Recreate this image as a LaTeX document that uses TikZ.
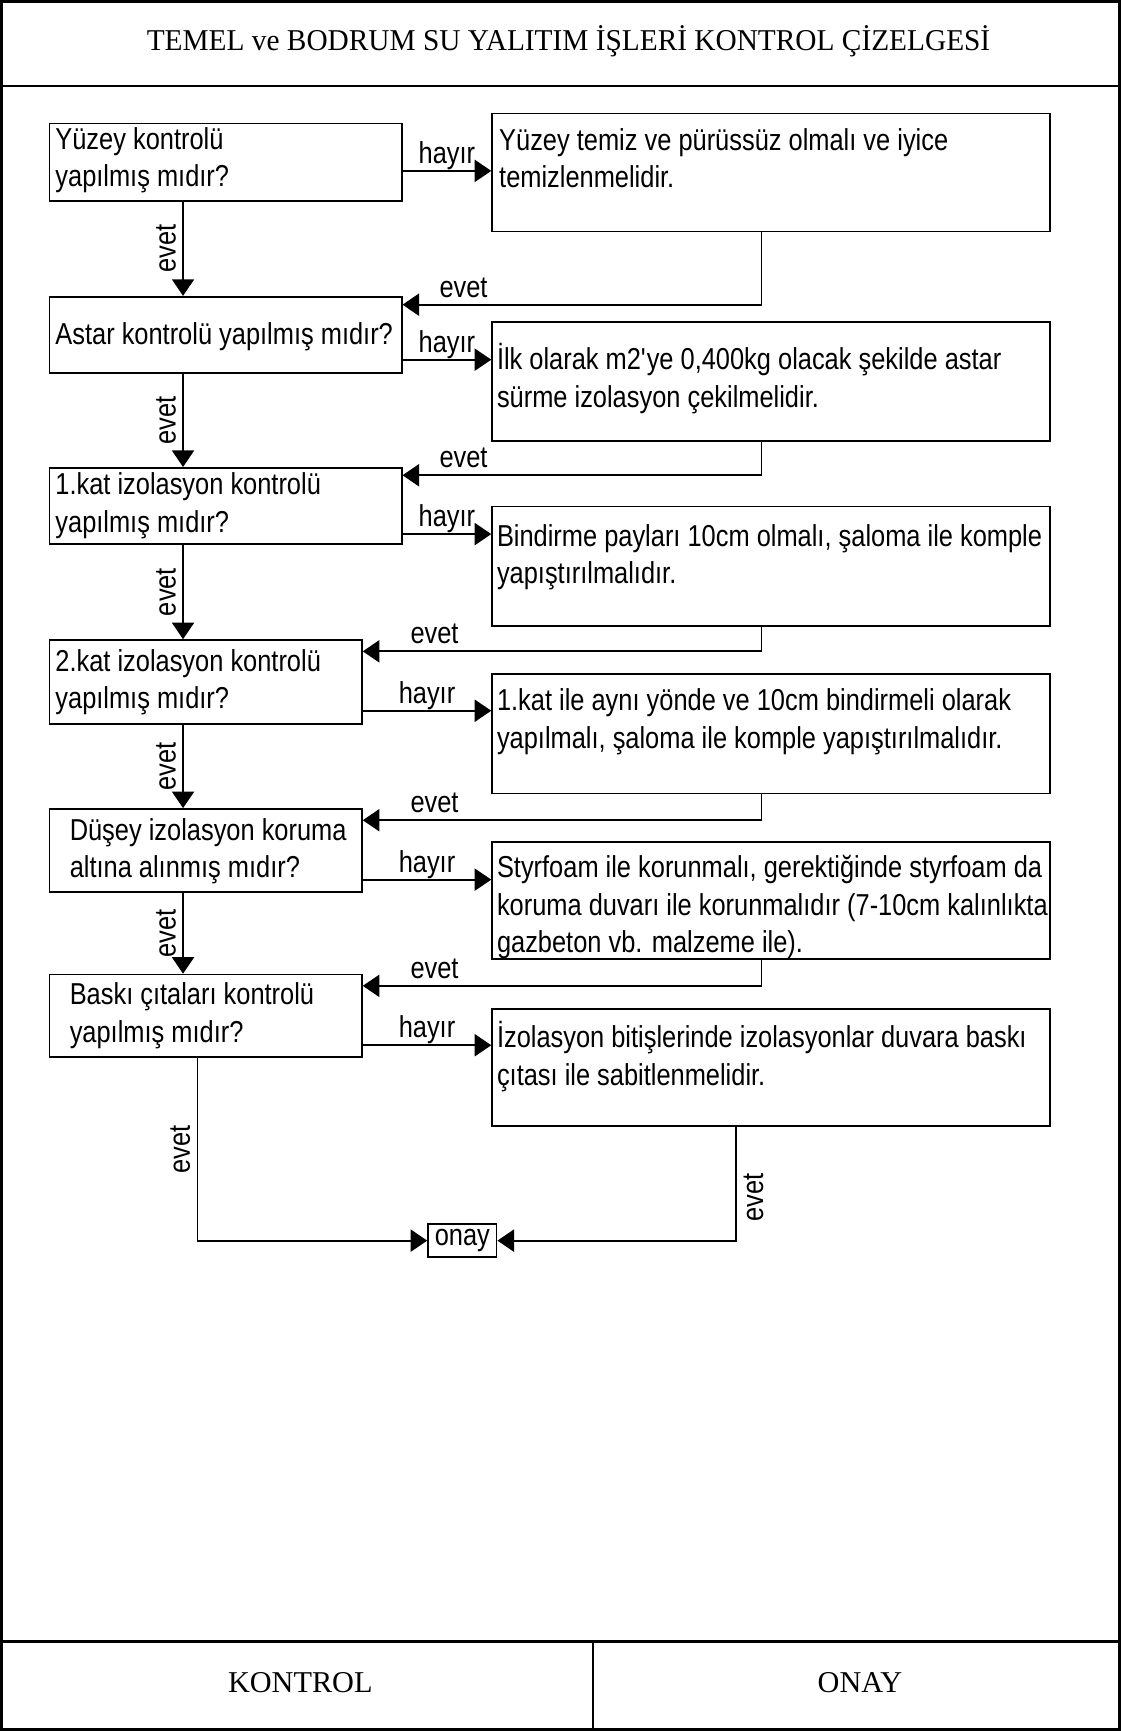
\documentclass[tikz,border=0pt]{standalone}
\usepackage{fontspec}
\setmainfont{Liberation Serif}
\newfontfamily\flowfont[FakeStretch=0.84]{Liberation Sans}
\usetikzlibrary{arrows.meta}
% left-aligned multi-line text whose reference point is the first baseline
\newcommand\boxlines[1]{\parbox[t]{700pt}{\flowfont\fontsize{27.4}{34}\selectfont\raggedright #1}}

\begin{document}
\begin{tikzpicture}[x=1pt,y=-1pt,
  frameline/.style={line width=2.4pt},
  thinframe/.style={line width=1.4pt},
  qbox/.style={draw, line width=1.6pt, anchor=north west, inner sep=0pt},
  body/.style={anchor=base west, inner sep=0pt},
  conn/.style={line width=1.6pt},
  arr/.style={conn, -{Triangle[length=15pt,width=20pt]}},
  lbl/.style={font=\flowfont\fontsize{27.4}{30}\selectfont, inner sep=6pt, text depth=0pt},
  heading/.style={font=\fontsize{27.4}{30}\selectfont, anchor=base, inner sep=0pt}
]
\useasboundingbox (0,0) rectangle (1015,1568);

% form frame
\draw[frameline] (1.2,1.2) rectangle (1013.8,1566.8);
\draw[frameline] (0,78) -- (1015,78);
\draw[frameline] (0,1487) -- (1015,1487);
\draw[thinframe] (537,1487) -- (537,1568);
\node[heading, font=\addfontfeature{FakeStretch=0.97}\fontsize{27.4}{30}\selectfont] (title) at (515,46) {TEMEL ve BODRUM SU YALITIM İŞLERİ KONTROL ÇİZELGESİ};
\node[heading] (kontrol) at (272,1533) {KONTROL};
\node[heading] (onaycell) at (779,1533) {ONAY};

% question boxes
\node[qbox, minimum width=319pt, minimum height=70pt] (Q1) at (44,111) {};
\node[qbox, minimum width=319pt, minimum height=69pt] (Q2) at (44,268) {};
\node[qbox, minimum width=319pt, minimum height=69pt] (Q3) at (44,423) {};
\node[qbox, minimum width=283pt, minimum height=76pt] (Q4) at (44,579) {};
\node[qbox, minimum width=283pt, minimum height=75pt] (Q5) at (44,732) {};
\node[qbox, minimum width=283pt, minimum height=75pt] (Q6) at (44,882) {};

% action boxes
\node[qbox, minimum width=505pt, minimum height=107pt] (A1) at (445,102) {};
\node[qbox, minimum width=505pt, minimum height=108pt] (A2) at (445,291) {};
\node[qbox, minimum width=505pt, minimum height=108pt] (A3) at (445,458) {};
\node[qbox, minimum width=505pt, minimum height=108pt] (A4) at (445,610) {};
\node[qbox, minimum width=505pt, minimum height=106pt] (A5) at (445,762) {};
\node[qbox, minimum width=505pt, minimum height=106pt] (A6) at (445,913) {};

% final box
\node[qbox, minimum width=62pt, minimum height=30pt, font=\flowfont\fontsize{27.4}{30}\selectfont] (onay) at (387,1108) {onay};

% question texts
\node[body] (Q1t) at (50,135) {\boxlines{Yüzey kontrolü\\yapılmış mıdır?}};
\node[body] (Q2t) at (50,312) {\boxlines{Astar kontrolü yapılmış mıdır?}};
\node[body] (Q3t) at (50,448) {\boxlines{1.kat izolasyon kontrolü\\yapılmış mıdır?}};
\node[body] (Q4t) at (50,608) {\boxlines{2.kat izolasyon kontrolü\\yapılmış mıdır?}};
\node[body] (Q5t) at (63,761) {\boxlines{Düşey izolasyon koruma\\altına alınmış mıdır?}};
\node[body] (Q6t) at (63,910) {\boxlines{Baskı çıtaları kontrolü\\yapılmış mıdır?}};

% action texts
\node[body] (A1t) at (452,136) {\boxlines{Yüzey temiz ve pürüssüz olmalı ve iyice\\temizlenmelidir.}};
\node[body] (A2t) at (450,335) {\boxlines{İlk olarak m2\textquotesingle ye 0,400kg olacak şekilde astar\\sürme izolasyon çekilmelidir.}};
\node[body] (A3t) at (450,495) {\boxlines{Bindirme payları 10cm olmalı, şaloma ile komple\\yapıştırılmalıdır.}};
\node[body] (A4t) at (450,644) {\boxlines{1.kat ile aynı yönde ve 10cm bindirmeli olarak\\yapılmalı, şaloma ile komple yapıştırılmalıdır.}};
\node[body] (A5t) at (450,795) {\boxlines{Styrfoam ile korunmalı, gerektiğinde styrfoam da\\koruma duvarı ile korunmalıdır (7-10cm kalınlıkta\\gazbeton vb. malzeme ile).}};
\node[body] (A6t) at (450,949) {\boxlines{İzolasyon bitişlerinde izolasyonlar duvara baskı\\çıtası ile sabitlenmelidir.}};

% "evet" downward flow
\draw[arr] ([xshift=-38.5pt]Q1.south) -- ([xshift=-38.5pt]Q1.south |- Q2.north) node[lbl, midway, anchor=south, rotate=90] {evet};
\draw[arr] ([xshift=-38.5pt]Q2.south) -- ([xshift=-38.5pt]Q2.south |- Q3.north) node[lbl, midway, anchor=south, rotate=90] {evet};
\draw[arr] ([xshift=-38.5pt]Q3.south) -- ([xshift=-38.5pt]Q3.south |- Q4.north) node[lbl, midway, anchor=south, rotate=90] {evet};
\draw[arr] ([xshift=-20.5pt]Q4.south) -- ([xshift=-20.5pt]Q4.south |- Q5.north) node[lbl, midway, anchor=south, rotate=90] {evet};
\draw[arr] ([xshift=-20.5pt]Q5.south) -- ([xshift=-20.5pt]Q5.south |- Q6.north) node[lbl, midway, anchor=south, rotate=90] {evet};

% "hayır" branches
\draw[arr] ([yshift=-8pt]Q1.east) -- ([yshift=-8pt]Q1.east -| A1.west) node[lbl, midway, anchor=south] {hayır};
\draw[arr] ([yshift=-22.5pt]Q2.east) -- ([yshift=-22.5pt]Q2.east -| A2.west) node[lbl, midway, anchor=south] {hayır};
\draw[arr] ([yshift=-25.5pt]Q3.east) -- ([yshift=-25.5pt]Q3.east -| A3.west) node[lbl, midway, anchor=south] {hayır};
\draw[arr] ([yshift=-26pt]Q4.east) -- ([yshift=-26pt]Q4.east -| A4.west) node[lbl, midway, anchor=south] {hayır};
\draw[arr] ([yshift=-26.5pt]Q5.east) -- ([yshift=-26.5pt]Q5.east -| A5.west) node[lbl, midway, anchor=south] {hayır};
\draw[arr] ([yshift=-26.5pt]Q6.east) -- ([yshift=-26.5pt]Q6.east -| A6.west) node[lbl, midway, anchor=south] {hayır};

% returns after correction
\draw[arr] ([xshift=-8.5pt]A1.south) |- ([yshift=-8pt]Q2.north east) node[lbl, pos=0.915, anchor=south] {evet};
\draw[arr] ([xshift=-8.5pt]A2.south) |- ([yshift=-7.5pt]Q3.north east) node[lbl, pos=0.915, anchor=south] {evet};
\draw[arr] ([xshift=-8.5pt]A3.south) |- ([yshift=-11pt]Q4.north east) node[lbl, pos=0.91, anchor=south] {evet};
\draw[arr] ([xshift=-8.5pt]A4.south) |- ([yshift=-11pt]Q5.north east) node[lbl, pos=0.91, anchor=south] {evet};
\draw[arr] ([xshift=-8.5pt]A5.south) |- ([yshift=-11pt]Q6.north east) node[lbl, pos=0.91, anchor=south] {evet};

% into the approval box
\draw[arr] ([xshift=-7.5pt]Q6.south) |- (onay.west) node[lbl, pos=0.25, anchor=south, rotate=90] {evet};
\draw[arr] ([xshift=-31.5pt]A6.south) |- (onay.east) node[lbl, pos=0.31, anchor=north, rotate=90] {evet};
\end{tikzpicture}
\end{document}
